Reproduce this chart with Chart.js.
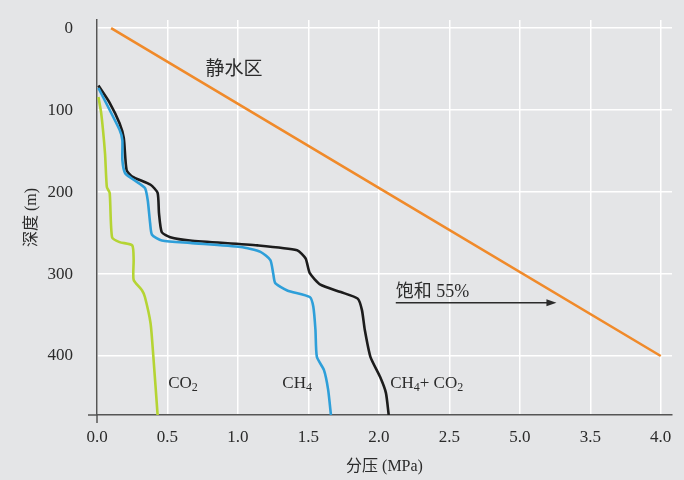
<!DOCTYPE html>
<html lang="zh-CN">
<head>
  <meta charset="UTF-8">
  <title>分压与深度</title>
  <script src="https://cdn.jsdelivr.net/npm/chart.js"></script>
  <style>
    html, body {
      margin: 0;
      padding: 0;
      background: #e4e5e7;
    }
    #wrap {
      width: 684px;
      height: 480px;
    }
  </style>
</head>
<body>
  <div id="wrap"><canvas id="grafico"></canvas></div>

  <script>
    // 分压 (MPa) / 深度 (m)
    const ch4co2P = [0.01, 0.09, 0.16, 0.19, 0.21, 0.25, 0.38, 0.43, 0.44, 0.46, 0.52, 0.66, 1.14, 1.42, 1.48, 1.51, 1.585, 1.73, 1.85, 1.88, 1.90, 1.94, 2.01, 2.05, 2.07];
    const ch4co2D = [70, 91, 116, 134, 173, 181, 191, 201, 226, 249, 255, 259, 265, 271, 281, 299, 313, 322, 330, 344, 368, 401, 426, 445, 472];

    const ch4P = [0.01, 0.16, 0.18, 0.18, 0.20, 0.26, 0.34, 0.36, 0.377, 0.39, 0.46, 0.66, 1.02, 1.16, 1.23, 1.25, 1.265, 1.35, 1.51, 1.535, 1.55, 1.56, 1.61, 1.64, 1.66];
    const ch4D = [73, 124, 137, 161, 177, 185, 195, 210, 238, 252, 259, 262, 267, 273, 283, 299, 311, 320, 328, 340, 368, 401, 417, 441, 472];

    const co2P = [0.01, 0.03, 0.057, 0.07, 0.09, 0.107, 0.16, 0.25, 0.26, 0.26, 0.32, 0.34, 0.38, 0.40, 0.43];
    const co2D = [84, 104, 153, 194, 201, 255, 261, 265, 283, 307, 320, 328, 360, 401, 472];

    const staticP = [0.1, 4.0];
    const staticD = [0, 400];

    const xTicks = [0, 0.5, 1, 1.5, 2, 2.5, 3, 3.5, 4];
    const xTickLabels = ['0.0', '0.5', '1.0', '1.5', '2.0', '2.5', '5.0', '3.5', '4.0'];
    const yTicks = [0, 100, 200, 300, 400];

    const pontos = (px, dy) => px.map((v, i) => ({ x: v, y: dy[i] }));

    const serif = "'Liberation Serif', 'DejaVu Serif', serif";
    const cjk = "'Liberation Serif', 'Noto Sans CJK SC', serif";

    // texts and arrow drawn at data coordinates
    const rotulos = {
      id: 'rotulos',
      afterDatasetsDraw(chart) {
        const c = chart.ctx;
        const x = chart.scales.x, y = chart.scales.y;
        const a = chart.chartArea;
        c.save();

        // axes run a little past the corner
        c.strokeStyle = '#555555';
        c.lineWidth = 1.5;
        c.beginPath();
        c.moveTo(a.left, a.bottom);
        c.lineTo(a.left, a.bottom + 8);
        c.moveTo(a.left, a.bottom);
        c.lineTo(a.left - 9, a.bottom);
        c.stroke();

        c.fillStyle = '#2b2b2b';
        c.textBaseline = 'middle';
        c.textAlign = 'left';

        c.font = '19px ' + cjk;
        c.fillText('静水区', x.getPixelForValue(0.77), y.getPixelForValue(51));

        const sub = (txt, subTxt, px, py) => {
          c.font = '17px ' + serif;
          c.fillText(txt, px, py);
          let w = c.measureText(txt).width;
          c.font = '12px ' + serif;
          c.fillText(subTxt, px + w, py + 5);
          w += c.measureText(subTxt).width;
          return px + w;
        };
        const yl = y.getPixelForValue(433);
        sub('CO', '2', x.getPixelForValue(0.505), yl);
        sub('CH', '4', x.getPixelForValue(1.315), yl);
        let nx = sub('CH', '4', x.getPixelForValue(2.08), yl);
        c.font = '17px ' + serif;
        c.fillText('+', nx, yl);
        nx += c.measureText('+ ').width;
        sub('CO', '2', nx, yl);

        c.font = '18px ' + cjk;
        c.fillText('饱和 55%', x.getPixelForValue(2.12), y.getPixelForValue(322));

        const ax0 = x.getPixelForValue(2.12), ax1 = x.getPixelForValue(3.26);
        const ay = y.getPixelForValue(335);
        c.strokeStyle = '#2b2b2b';
        c.lineWidth = 1.5;
        c.beginPath();
        c.moveTo(ax0, ay);
        c.lineTo(ax1 - 8, ay);
        c.stroke();
        c.beginPath();
        c.moveTo(ax1, ay);
        c.lineTo(ax1 - 10, ay - 3.5);
        c.lineTo(ax1 - 10, ay + 3.5);
        c.closePath();
        c.fill();
        c.restore();
      }
    };

    const linha = (dados, cor) => ({
      data: dados,
      borderColor: cor,
      borderWidth: 2.6,
      pointRadius: 0,
      tension: 0.2,
      fill: false
    });

    new Chart(document.getElementById('grafico'), {
      type: 'line',
      data: {
        datasets: [
          linha(pontos(staticP, staticD), '#f08a2a'),
          linha(pontos(co2P, co2D), '#b5d434'),
          linha(pontos(ch4P, ch4D), '#2e9fd9'),
          linha(pontos(ch4co2P, ch4co2D), '#1c1c1c')
        ]
      },
      options: {
        responsive: true,
        maintainAspectRatio: false,
        animation: false,
        layout: { padding: { top: 20, right: 12, left: 10, bottom: 0 } },
        plugins: {
          legend: { display: false },
          tooltip: { enabled: false }
        },
        scales: {
          x: {
            type: 'linear',
            min: 0,
            max: 4.08,
            afterBuildTicks: s => { s.ticks = xTicks.map(v => ({ value: v })); },
            afterFit: s => { s.height = 65; s.paddingLeft = 0; s.paddingRight = 0; },
            ticks: {
              callback: (v, i) => xTickLabels[i],
              color: '#2b2b2b',
              font: { family: serif, size: 17 },
              padding: 12,
              maxRotation: 0
            },
            grid: { color: '#ffffff', lineWidth: 1.5, drawTicks: false },
            border: { color: '#555555', width: 1.5 },
            title: {
              display: true,
              text: '分压 (MPa)',
              color: '#2b2b2b',
              font: { family: cjk, size: 16 },
              padding: { top: 0 }
            }
          },
          y: {
            type: 'linear',
            reverse: true,
            min: -10,
            max: 472,
            afterBuildTicks: s => { s.ticks = yTicks.map(v => ({ value: v })); },
            afterFit: s => { s.width = 87; s.paddingTop = 0; s.paddingBottom = 0; },
            ticks: {
              color: '#2b2b2b',
              font: { family: serif, size: 17 },
              padding: 24
            },
            grid: { color: '#ffffff', lineWidth: 1.5, drawTicks: false },
            border: { color: '#555555', width: 1.5 },
            title: {
              display: true,
              text: '深度 (m)',
              color: '#2b2b2b',
              font: { family: cjk, size: 16 },
              padding: { top: 12 }
            }
          }
        }
      },
      plugins: [rotulos]
    });
  </script>
</body>
</html>
